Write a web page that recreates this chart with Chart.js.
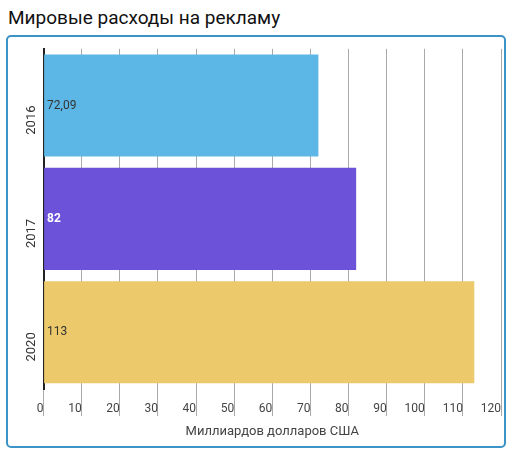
<!DOCTYPE html><html><head><meta charset="utf-8">
<script src="https://cdn.jsdelivr.net/npm/chart.js@4"></script>
<style>
body{margin:0;background:#fff;font-family:Roboto,sans-serif;}
#t{position:absolute;left:8px;top:6px;font-size:19px;color:#111;}
#f{position:absolute;left:6px;top:35px;width:496px;height:409px;border:2px solid #3b93c6;border-radius:5px;}
#f canvas{position:absolute;left:0;top:0;}
</style></head><body>
<div id="t">Мировые расходы на рекламу</div>
<div id="f"><canvas id="c" width="496" height="409"></canvas></div>
<script>
const categories=["2016","2017","2020"];
const values=[72.09,82,113];
const valueLabels=["72,09","82","113"];
const colors=["#5db7e6","#6b52d9","#ecc96b"];
const labelColors=["#333","#fff","#333"];
const xTitle="Миллиардов долларов США";
const labelPlugin={id:'lbl',afterDatasetsDraw(ch){const ctx=ch.ctx;const m=ch.getDatasetMeta(0);
m.data.forEach((b,i)=>{ctx.save();ctx.font=(i==1?'bold ':'')+'12px Roboto';ctx.fillStyle=labelColors[i];ctx.textBaseline='middle';ctx.fillText(valueLabels[i],b.base+3,b.y);ctx.restore();});}};
new Chart(document.getElementById('c'),{type:'bar',data:{labels:categories,datasets:[{data:values,backgroundColor:colors,barPercentage:0.9,categoryPercentage:1}]},
options:{indexAxis:'y',responsive:false,animation:false,layout:{padding:{left:4,right:3,top:9,bottom:6}},
plugins:{legend:{display:false},tooltip:{enabled:false}},
scales:{x:{min:0,max:120,ticks:{stepSize:10,align:'end',padding:-14,color:'#444',font:{family:'Roboto',size:12}},
grid:{color:'#aaa',tickLength:27,drawTicks:true},border:{display:false},
title:{display:true,text:xTitle,color:'#444',font:{family:'Roboto',size:13},padding:{top:22,bottom:0}}},
y:{ticks:{color:'#333',font:{family:'Roboto',size:13},padding:4,minRotation:90,maxRotation:90},grid:{display:false},border:{color:'#222',width:2}}}},
plugins:[labelPlugin]});
</script></body></html>
